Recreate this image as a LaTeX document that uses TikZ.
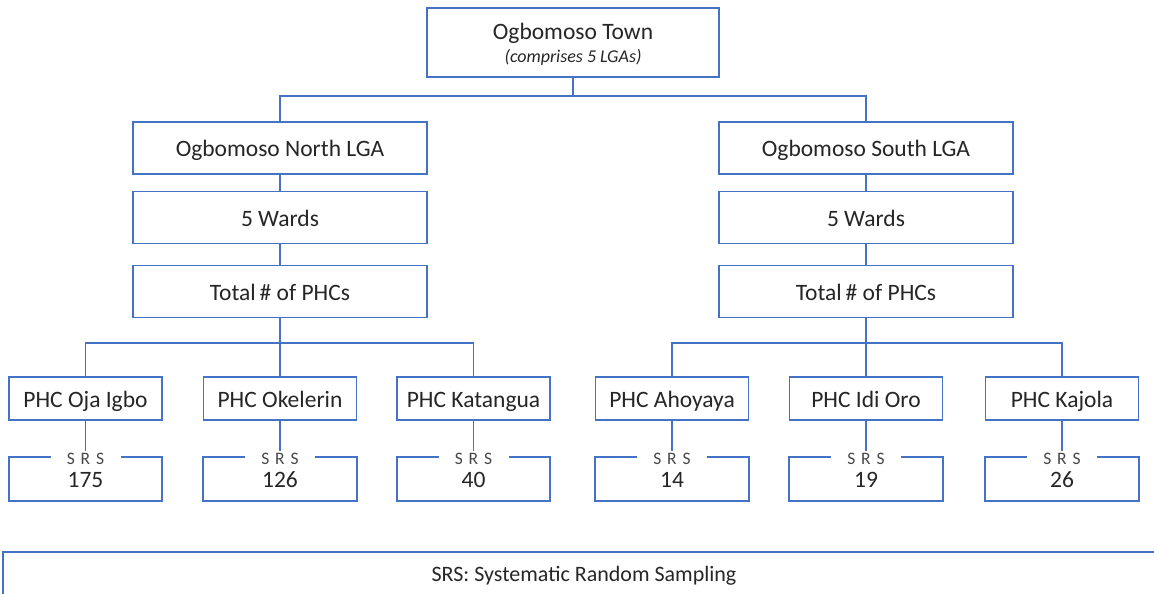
\documentclass[tikz,border=0pt]{standalone}
\usepackage{fontspec}
\setmainfont{Carlito}
\definecolor{obl}{HTML}{4472C4}
\definecolor{txt}{HTML}{262626}
\begin{document}
\begin{tikzpicture}[x=1pt,y=-1pt,
  line/.style={draw=obl,line width=1.8pt},
  box/.style={line,fill=white,inner sep=0pt,text=txt,font=\fontsize{23.5}{26}\selectfont,align=center,text height=19pt,text depth=2pt},
  lgabox/.style={box,minimum width=294pt,minimum height=52pt},
  phcbox/.style={box,minimum width=153pt,minimum height=43pt},
  srsbox/.style={inner sep=0pt,minimum width=153pt,minimum height=44pt,text=txt,font=\fontsize{23.5}{26}\selectfont,text height=19pt,text depth=2pt},
  srslab/.style={inner sep=2pt,text=txt!85,font=\fontsize{17.5}{19}\selectfont},
]
\useasboundingbox (0,0) rectangle (1154,594);
% top
\node[line,fill=white,minimum width=292pt,minimum height=69pt] (top) at (573,42.5) {};
\node[anchor=base,text=txt,font=\fontsize{23.5}{26}\selectfont] (toptitle) at (573,40) {Ogbomoso Town};
\node[anchor=base,text=txt,font=\fontsize{18}{20}\selectfont\itshape] (topsub) at (573,63) {(comprises 5 LGAs)};
% LGA columns
\node[lgabox] (north) at (280,148) {Ogbomoso North LGA};
\node[lgabox] (nwards) at (280,217.5) {5 Wards};
\node[lgabox] (ntotal) at (280,291.5) {Total\,\# of PHCs};
\node[lgabox] (south) at (866,148) {Ogbomoso South LGA};
\node[lgabox] (swards) at (866,217.5) {5 Wards};
\node[lgabox] (stotal) at (866,291.5) {Total\,\# of PHCs};
\coordinate (topbus) at (573,96);
\draw[line] (top.south) -- (topbus) -| (north.north);
\draw[line] (topbus) -| (south.north);
\draw[line] (north) -- (nwards);
\draw[line] (nwards) -- (ntotal);
\draw[line] (south) -- (swards);
\draw[line] (swards) -- (stotal);
% PHC boxes
\node[phcbox] (p1) at (85.5,398.5) {PHC Oja Igbo};
\node[phcbox] (p2) at (280,398.5) {PHC Okelerin};
\node[phcbox] (p3) at (473.5,398.5) {PHC Katangua};
\node[phcbox] (p4) at (672,398.5) {PHC Ahoyaya};
\node[phcbox] (p5) at (866,398.5) {PHC Idi Oro};
\node[phcbox] (p6) at (1062,398.5) {PHC Kajola};
\coordinate (nbus) at (280,343);
\coordinate (sbus) at (866,343);
\draw[line] (ntotal.south) -- (nbus) -| (p1.north);
\draw[line] (nbus) -| (p3.north);
\draw[line] (nbus) -- (p2.north);
\draw[line] (stotal.south) -- (sbus) -| (p4.north);
\draw[line] (sbus) -| (p6.north);
\draw[line] (sbus) -- (p5.north);
% SRS boxes
\foreach \i/\x/\n in {1/85.5/175,2/280/126,3/473.5/40,4/672/14,5/866/19,6/1062/26}{
  \node[srsbox] (s\i) at (\x,479) {\n};
  \draw[line] ([xshift=-35pt]s\i.north) -- (s\i.north west) -- (s\i.south west)
    -- (s\i.south east) -- (s\i.north east) -- ([xshift=35pt]s\i.north);
  \node[srslab] (l\i) at ([yshift=-2pt]s\i.north) {S\,\,R\,\,S};
  \draw[line] (p\i.south) -- (p\i.south |- l\i.north);
}
% legend
\draw[line] (1160,552) -- (3,552) -- (3,600);
\node[text=txt,font=\fontsize{22}{24}\selectfont] (legend) at (584,576) {SRS: Systematic Random Sampling};
\end{tikzpicture}
\end{document}
